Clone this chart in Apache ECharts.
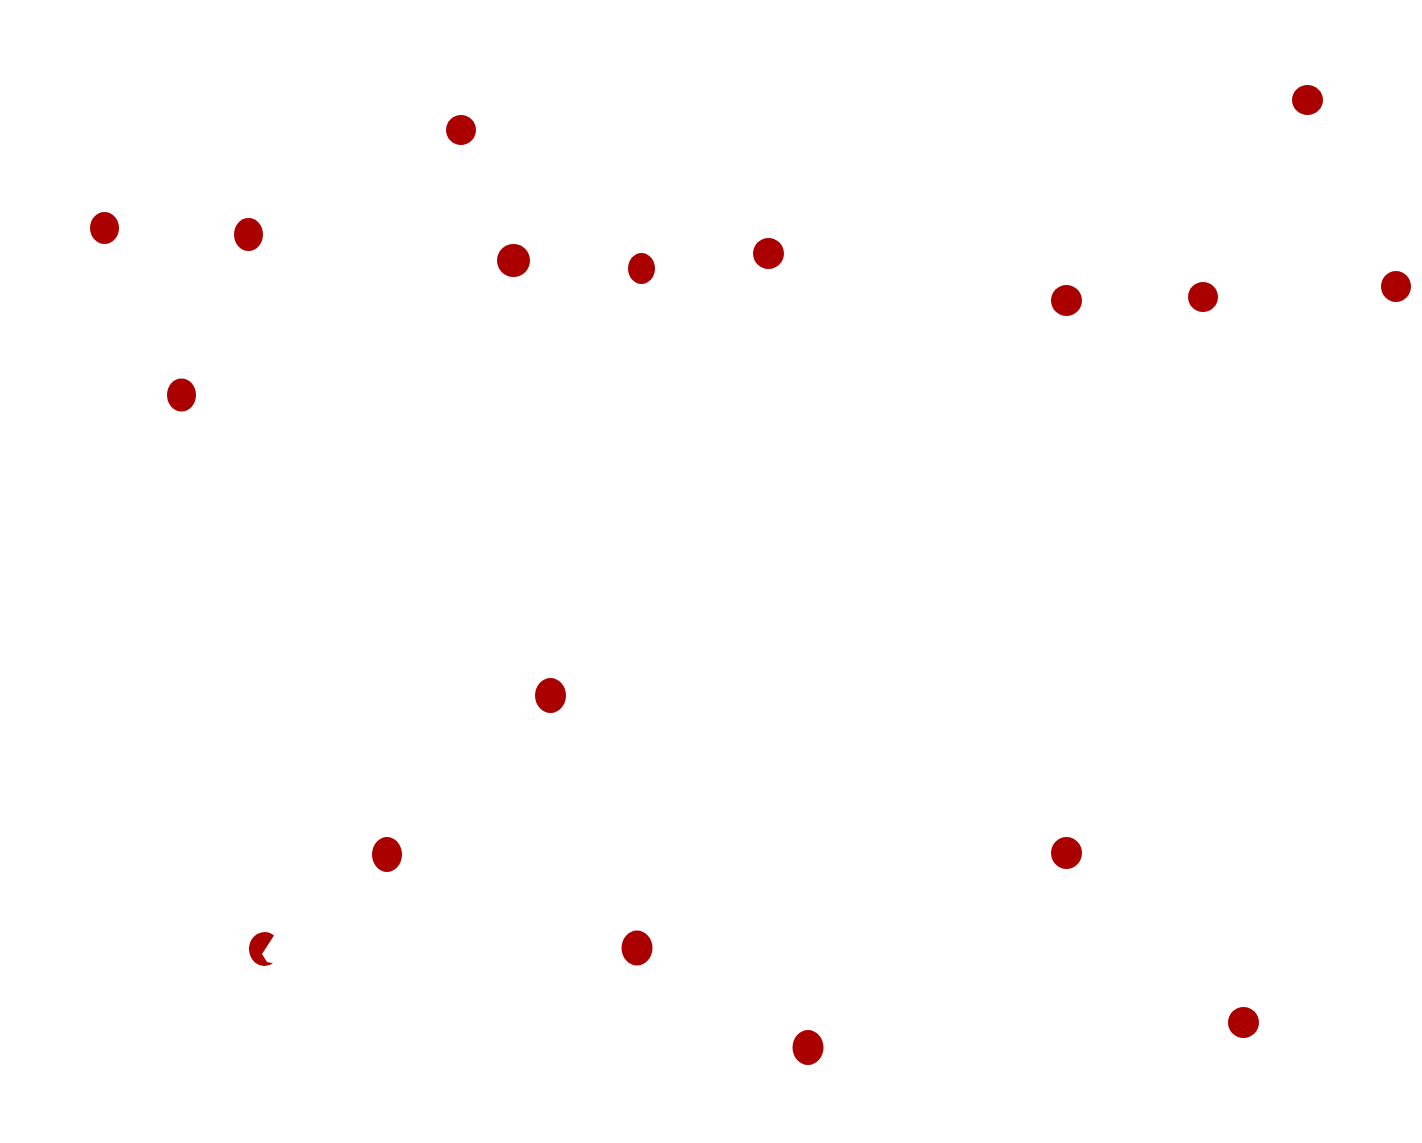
<!DOCTYPE html>
<html>
<head>
<meta charset="utf-8">
<script src="https://cdn.jsdelivr.net/npm/echarts@6/dist/echarts.min.js"></script>
<style>
html,body{margin:0;padding:0;background:#fff;}
#chart{width:1422px;height:1143px;}
</style>
</head>
<body>
<div id="chart"></div>
<script>
// Point values (x, y)
const xValues = [104.5, 248.5, 461, 513.5, 641.5, 768.5, 1066.5, 1203, 1307.5, 1396, 181.5, 550.5, 387, 261.5, 637, 808, 1066.5, 1243.5];
const yValues = [228, 234.5, 130, 260.5, 268.5, 253.5, 300.5, 297, 100, 286.5, 395, 695.5, 854.5, 949, 948, 1047.5, 853, 1022.5];

// Marker styling (kept apart from the values)
const markerWidths  = [29, 29, 30, 33, 27, 31, 31, 30, 31, 30, 29, 31, 30, 25, 31, 31, 31, 31];
const markerHeights = [32, 33, 30, 33, 31, 31, 31, 30, 30, 31, 33, 35, 35, 34, 35, 35, 32, 31];
const notchedIndex = 13;
const ellipsePath = 'path://M50 0 C77.6 0 100 22.4 100 50 C100 77.6 77.6 100 50 100 C22.4 100 0 77.6 0 50 C0 22.4 22.4 0 50 0 Z';
const notchedPath = 'path://M25 3.6 A15.5 17 0 1 0 24 31.2 L18 30 L13 22 Z';
const markerColor = '#aa0000';

const chart = echarts.init(document.getElementById('chart'), null, {renderer: 'canvas'});
const data = xValues.map((x, i) => ({
  value: [x, yValues[i]],
  symbol: i === notchedIndex ? notchedPath : ellipsePath,
  symbolSize: [markerWidths[i], markerHeights[i]]
}));

chart.setOption({
  animation: false,
  backgroundColor: '#ffffff',
  grid: {left: 0, right: 0, top: 0, bottom: 0},
  xAxis: {type: 'value', min: 0, max: 1422, show: false},
  yAxis: {type: 'value', min: 0, max: 1143, inverse: true, show: false},
  series: [{
    type: 'scatter',
    data: data,
    itemStyle: {color: markerColor, opacity: 1, borderWidth: 0},
    emphasis: {disabled: true}
  }]
});
</script>
</body>
</html>
